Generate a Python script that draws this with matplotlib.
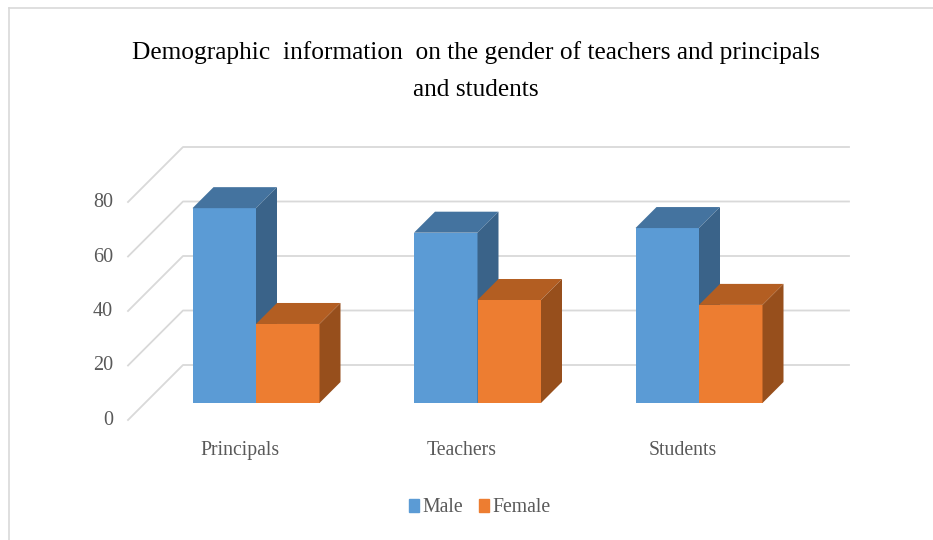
import matplotlib
matplotlib.use("Agg")
import matplotlib.pyplot as plt
from matplotlib.lines import Line2D
from matplotlib.patches import Patch, Polygon

categories = ["Principals", "Teachers", "Students"]
male = [71.5, 62.5, 64.2]
female = [29, 37.8, 36]
ticks = [0, 20, 40, 60, 80]
title = "Demographic  information  on the gender of teachers and principals\nand students"

W, H = 933, 540
X0, X_UNIT = 256, 221.5    # pixel of first group centre, pixels per category
Y0, Y_UNIT = 403, 2.725    # pixel of value 0 on the bar front, pixels per value


def px_w(p):
    return p / X_UNIT


def px_h(p):
    return p / Y_UNIT


plt.rcParams["font.family"] = ["Liberation Serif", "DejaVu Serif"]

fig = plt.figure(figsize=(W / 100, H / 100), dpi=100)
ax = fig.add_axes([0, 0, 1, 1])
ax.set_xlim(-X0 / X_UNIT, (W - X0) / X_UNIT)
ax.set_ylim(-(H - Y0) / Y_UNIT, Y0 / Y_UNIT)
ax.axis("off")

# frame of the pasted picture
frame = "#d9d9d9"
fig.add_artist(Line2D([9 / W, 9 / W], [0, 1 - 8 / H], color=frame, lw=1.2))
fig.add_artist(Line2D([9 / W, 1], [1 - 8 / H, 1 - 8 / H], color=frame, lw=1.2))

# back wall gridlines and the diagonal on the side wall
grid = "#d9d9d9"
x_front = px_w(128 - X0)
x_back = px_w(183 - X0)
x_right = px_w(849 - X0)
wall_up = px_h(38)
floor_down = px_h(17)
for t in ticks:
    ax.plot([x_front, x_back, x_right],
            [t - floor_down, t + wall_up, t + wall_up], color=grid, lw=1.3, zorder=1)
    ax.text(x_front - px_w(15), t - floor_down - px_h(0.5), str(t), ha="right", va="center",
            fontsize=14.5, color="#595959")

width = px_w(63.5)
dx = px_w(21)
dy = px_h(21)


def bar_3d(x, value, front, top, side):
    ax.bar(x, value, width, align="edge", color=front, zorder=3)
    ax.add_patch(Polygon([(x, value), (x + width, value), (x + width + dx, value + dy), (x + dx, value + dy)],
                         color=top, lw=0, zorder=3))
    ax.add_patch(Polygon([(x + width, 0), (x + width + dx, dy), (x + width + dx, value + dy), (x + width, value)],
                         color=side, lw=0, zorder=3))


for i, name in enumerate(categories):
    bar_3d(i - width, male[i], "#5b9bd5", "#44739f", "#3a6389")
    bar_3d(i, female[i], "#ed7d31", "#b35e22", "#974f1c")
    ax.text(i - px_w(16), -px_h(52), name, ha="center", va="baseline", fontsize=14.2, color="#595959")

fig.text(476 / W, 1 - 71 / H, title, ha="center", va="center", fontsize=18.3, color="black",
         linespacing=1.85)

handles = [Patch(color="#5b9bd5", label="Male"), Patch(color="#ed7d31", label="Female")]
fig.legend(handles=handles, loc="center", bbox_to_anchor=(480 / W, 1 - 508 / H), ncol=2, frameon=False,
           fontsize=14.2, labelcolor="#595959", handlelength=0.48, handleheight=0.65,
           handletextpad=0.2, columnspacing=0.8)

fig.savefig("out.png", dpi=100)
